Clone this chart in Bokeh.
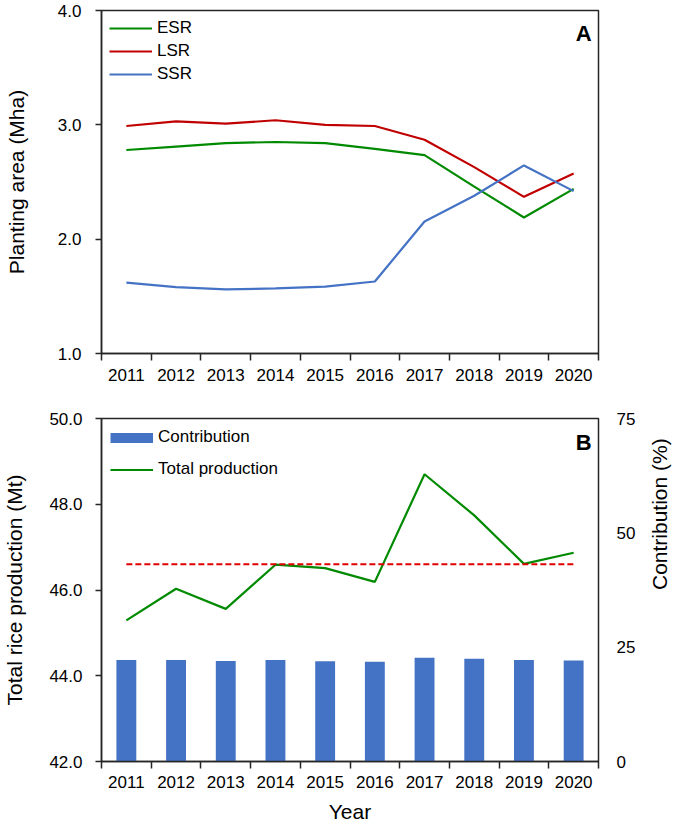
import math
from bokeh.plotting import figure
from bokeh.models import (FixedTicker, NumeralTickFormatter, Range1d, LinearAxis,
                          Legend, LegendItem, Label)
from bokeh.layouts import column
from bokeh.embed import file_html
from bokeh.resources import INLINE

# ---------------- data ----------------
years = [2011, 2012, 2013, 2014, 2015, 2016, 2017, 2018, 2019, 2020]
year_labels = ["2011", "2012", "2013", "2014", "2015", "2016", "2017", "2018", "2019", "2020"]

# Panel A: planting area (Mha)
esr = [2.78, 2.81, 2.84, 2.85, 2.84, 2.79, 2.735, 2.46, 2.19, 2.44]
lsr = [2.99, 3.03, 3.01, 3.04, 3.00, 2.99, 2.87, 2.63, 2.37, 2.575]
ssr = [1.62, 1.58, 1.56, 1.57, 1.585, 1.63, 2.155, 2.38, 2.645, 2.42]
area_ticks = [1.0, 2.0, 3.0, 4.0]

# Panel B: total production (Mt) and contribution (%)
total_production = [45.29, 46.03, 45.56, 46.59, 46.51, 46.19, 48.70, 47.74, 46.61, 46.87]
contribution = [22.2, 22.2, 22.0, 22.2, 21.9, 21.8, 22.7, 22.45, 22.2, 22.1]
mean_production = 46.6
production_ticks = [42.0, 44.0, 46.0, 48.0, 50.0]
contribution_ticks = [0, 25, 50, 75]

# ---------------- style ----------------
FONT = "Liberation Sans"
GREEN = "#008A00"
RED = "#C00000"
BLUE = "#4472C4"
DASH_RED = "#E00000"
FRAME = "#262626"
TICK_SIZE = "17px"
TITLE_SIZE = "21px"

boundaries = [years[0] - 0.5 + i for i in range(len(years) + 1)]
x_overrides = {y: s for y, s in zip(years, year_labels)}


def style_x_axis(ax, standoff):
    ax.ticker = FixedTicker(ticks=years, minor_ticks=boundaries)
    ax.major_label_overrides = x_overrides
    ax.major_tick_line_color = None
    ax.major_tick_out = 0
    ax.major_tick_in = 0
    ax.minor_tick_line_color = FRAME
    ax.minor_tick_line_width = 1.5
    ax.minor_tick_out = 7
    ax.minor_tick_in = 0
    ax.axis_line_color = FRAME
    ax.axis_line_width = 1.5
    ax.major_label_text_font = FONT
    ax.major_label_text_font_size = TICK_SIZE
    ax.major_label_text_color = "black"
    ax.major_label_standoff = standoff


def style_y_axis(ax, ticks, standoff, label, label_standoff):
    ax.ticker = FixedTicker(ticks=ticks)
    ax.formatter = NumeralTickFormatter(format="0.0")
    ax.major_tick_line_color = FRAME
    ax.major_tick_line_width = 1.5
    ax.major_tick_out = 6
    ax.major_tick_in = 0
    ax.minor_tick_line_color = None
    ax.axis_line_color = FRAME
    ax.axis_line_width = 1.5
    ax.major_label_text_font = FONT
    ax.major_label_text_font_size = TICK_SIZE
    ax.major_label_text_color = "black"
    ax.major_label_standoff = standoff
    ax.axis_label = label
    ax.axis_label_text_font = FONT
    ax.axis_label_text_font_size = TITLE_SIZE
    ax.axis_label_text_font_style = "normal"
    ax.axis_label_text_color = "black"
    ax.axis_label_standoff = label_standoff


W = 685
H1 = 388
H2 = 441

# ---------------- panel A ----------------
p1 = figure(width=W, height=H1, output_backend="svg", toolbar_location=None,
            x_range=Range1d(years[0] - 0.5, years[-1] + 0.5), y_range=Range1d(1.0, 4.0),
            min_border_left=100, min_border_right=W - 100 - 499, min_border_top=10,
            min_border_bottom=H1 - 10 - 343)
p1.grid.visible = False
p1.outline_line_color = FRAME
p1.outline_line_width = 1.5
p1.background_fill_color = "white"
p1.border_fill_color = "white"
style_x_axis(p1.xaxis[0], 8)
style_y_axis(p1.yaxis[0], area_ticks, 14, "Planting area (Mha)", 27)

r_esr = p1.line(years, esr, line_color=GREEN, line_width=2.2)
r_lsr = p1.line(years, lsr, line_color=RED, line_width=2.2)
r_ssr = p1.line(years, ssr, line_color=BLUE, line_width=2.2)

leg1 = Legend(items=[LegendItem(label="ESR", renderers=[r_esr]),
                     LegendItem(label="LSR", renderers=[r_lsr]),
                     LegendItem(label="SSR", renderers=[r_ssr])],
              location="top_left", margin=8, padding=0, spacing=3,
              glyph_width=43, glyph_height=20, label_height=20, label_standoff=5,
              label_text_font=FONT, label_text_font_size=TICK_SIZE,
              label_text_color="black", border_line_color=None,
              background_fill_alpha=0)
p1.add_layout(leg1)
p1.add_layout(Label(x=years[-1] + 0.36, y=3.91, text="A", text_align="right",
                    text_baseline="top", text_font=FONT, text_font_size="22px",
                    text_font_style="bold", text_color="black"))

# ---------------- panel B ----------------
p2 = figure(width=W, height=H2, output_backend="svg", toolbar_location=None,
            x_range=Range1d(years[0] - 0.5, years[-1] + 0.5), y_range=Range1d(42.0, 50.0),
            min_border_left=99, min_border_right=W - 99 - 501, min_border_top=30,
            min_border_bottom=H2 - 30 - 343)
p2.extra_y_ranges = {"contrib": Range1d(0, 75)}
p2.grid.visible = False
p2.outline_line_color = FRAME
p2.outline_line_width = 1.5
p2.background_fill_color = "white"
p2.border_fill_color = "white"
style_x_axis(p2.xaxis[0], 7)
p2.xaxis[0].axis_label = "Year"
p2.xaxis[0].axis_label_text_font = FONT
p2.xaxis[0].axis_label_text_font_size = TITLE_SIZE
p2.xaxis[0].axis_label_text_font_style = "normal"
p2.xaxis[0].axis_label_text_color = "black"
p2.xaxis[0].axis_label_standoff = 9
style_y_axis(p2.yaxis[0], production_ticks, 13, "Total rice production (Mt)", 20)

right = LinearAxis(y_range_name="contrib", ticker=FixedTicker(ticks=contribution_ticks),
                   axis_label="Contribution (%)")
right.major_tick_line_color = None
right.major_tick_out = 0
right.major_tick_in = 0
right.minor_tick_line_color = None
right.axis_line_color = None
right.major_label_text_font = FONT
right.major_label_text_font_size = TICK_SIZE
right.major_label_text_color = "black"
right.major_label_standoff = 18
right.axis_label_text_font = FONT
right.axis_label_text_font_size = TITLE_SIZE
right.axis_label_text_font_style = "normal"
right.axis_label_text_color = "black"
right.axis_label_standoff = 21
right.axis_label_orientation = math.pi / 2
p2.add_layout(right, "right")

r_bar = p2.vbar(x=years, top=contribution, bottom=0, width=0.4, y_range_name="contrib",
                fill_color=BLUE, line_color=None)
r_tot = p2.line(years, total_production, line_color=GREEN, line_width=2.2)
p2.line([years[0], years[-1]], [mean_production, mean_production], line_color=DASH_RED,
        line_width=2, line_dash="6 3")

# legend swatch for the bars: a thick line (no drawable data) spanning the glyph width
nan = float("nan")
bar_swatch = p2.line(x=[nan], y=[nan], line_color=BLUE, line_width=10, line_cap="butt")

leg2 = Legend(items=[LegendItem(label="Contribution", renderers=[bar_swatch]),
                     LegendItem(label="Total production", renderers=[r_tot])],
              location="top_left", margin=9, padding=0, spacing=12,
              glyph_width=43, glyph_height=13, label_height=20, label_standoff=5,
              label_text_font=FONT, label_text_font_size=TICK_SIZE,
              label_text_color="black", border_line_color=None,
              background_fill_alpha=0)
p2.add_layout(leg2)
p2.add_layout(Label(x=years[-1] + 0.36, y=49.74, text="B", text_align="right",
                    text_baseline="top", text_font=FONT, text_font_size="22px",
                    text_font_style="bold", text_color="black"))

layout = column(p1, p2)
open("out.html", "w").write(file_html(layout, INLINE))
